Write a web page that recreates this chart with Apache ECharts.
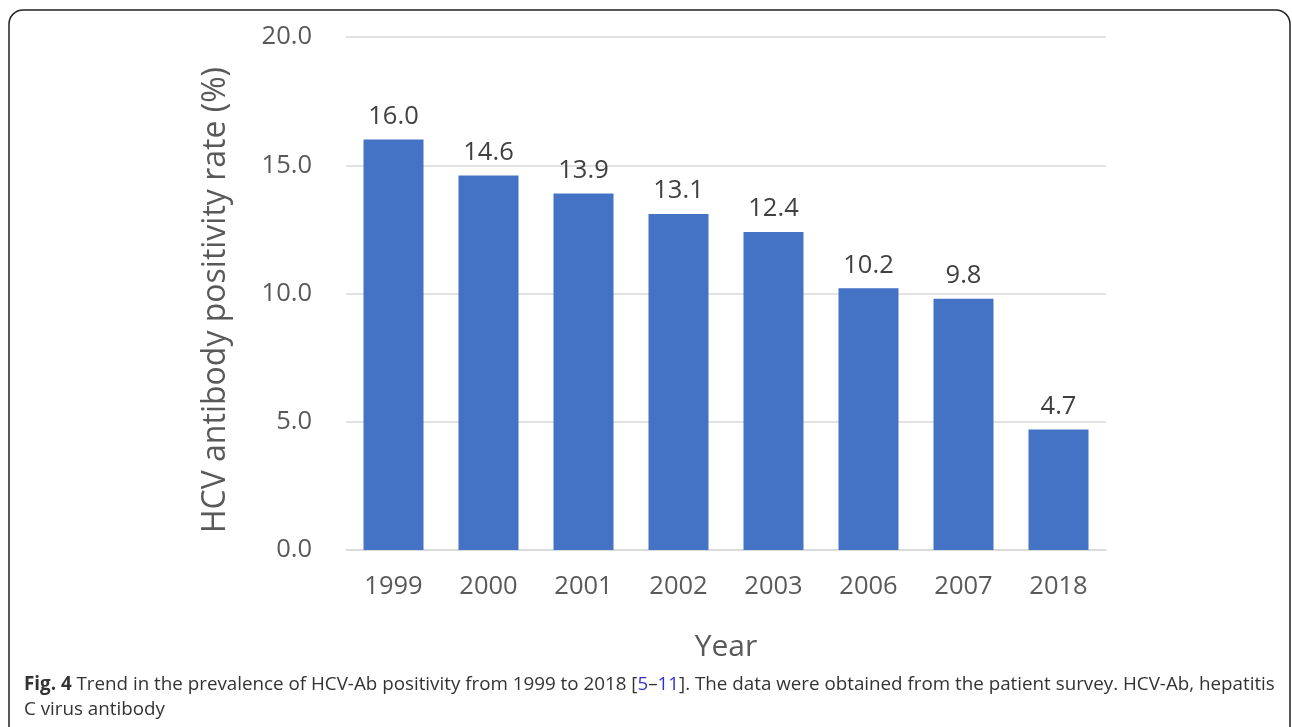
<!DOCTYPE html>
<html><head><meta charset="utf-8">
<script src="https://cdn.jsdelivr.net/npm/echarts@6/dist/echarts.min.js"></script>
<style>html,body{margin:0;padding:0;background:#fff}#c{width:1292px;height:727px}</style>
</head><body><div id="c"></div>
<script>
const years = ['1999','2000','2001','2002','2003','2006','2007','2018'];
const rates = [16.0, 14.6, 13.9, 13.1, 12.4, 10.2, 9.8, 4.7];
const yTicks = {min: 0, max: 20, interval: 5};

const chart = echarts.init(document.getElementById('c'));
const font = 'Open Sans, Noto Sans, sans-serif';
const capFont = '"Open Sans", sans-serif';
chart.setOption({
  animation: false,
  grid: {left: 346, right: 186, top: 37, bottom: 177, containLabel: false},
  xAxis: {
    type: 'category', data: years,
    name: 'Year', nameLocation: 'middle', nameGap: 82,
    nameTextStyle: {fontSize: 30, color: '#595959', fontFamily: font},
    axisLine: {lineStyle: {color: '#d9d9d9', width: 1.5}},
    axisTick: {show: false},
    axisLabel: {fontSize: 25.5, color: '#595959', fontFamily: font, margin: 24}
  },
  yAxis: {
    type: 'value', min: yTicks.min, max: yTicks.max, interval: yTicks.interval,
    axisLine: {show: false}, axisTick: {show: false},
    axisLabel: {fontSize: 25.5, color: '#595959', fontFamily: font, margin: 34,
      formatter: v => v.toFixed(1)},
    splitLine: {lineStyle: {color: '#d9d9d9', width: 1.5}}
  },
  series: [{
    type: 'bar', data: rates, barWidth: 60,
    itemStyle: {color: '#4472c4'},
    label: {show: true, position: 'top', distance: 10, fontSize: 25.5, color: '#404040',
      fontFamily: font, formatter: p => p.value.toFixed(1)}
  }],
  graphic: [
    {type: 'rect', shape: {x: 9, y: 10, width: 1281, height: 800, r: 14},
      style: {fill: 'none', stroke: '#222', lineWidth: 1.5}, silent: true},
    {type: 'text', x: 216, y: 300, rotation: Math.PI / 2, style: {
      text: 'HCV antibody positivity rate (%)', font: '32px ' + font, fill: '#595959',
      align: 'center', verticalAlign: 'middle'
    }},
    {type: 'text', left: 24, top: 675, style: {
      text: '{b|Fig. 4} Trend in the prevalence of HCV-Ab positivity from 1999 to 2018 [{l|5}–{l|11}]. The data were obtained from the patient survey. HCV-Ab, hepatitis',
      font: '18.8px ' + capFont, fill: '#333',
      rich: {b: {fontWeight: 'bold', fontSize: 18.8, fontFamily: capFont, fill: '#333'},
             l: {fontSize: 18.8, fontFamily: capFont, fill: '#3333cc'}}
    }},
    {type: 'text', left: 24, top: 700, style: {
      text: 'C virus antibody', font: '18.8px ' + capFont, fill: '#333'
    }}
  ]
});
</script></body></html>
